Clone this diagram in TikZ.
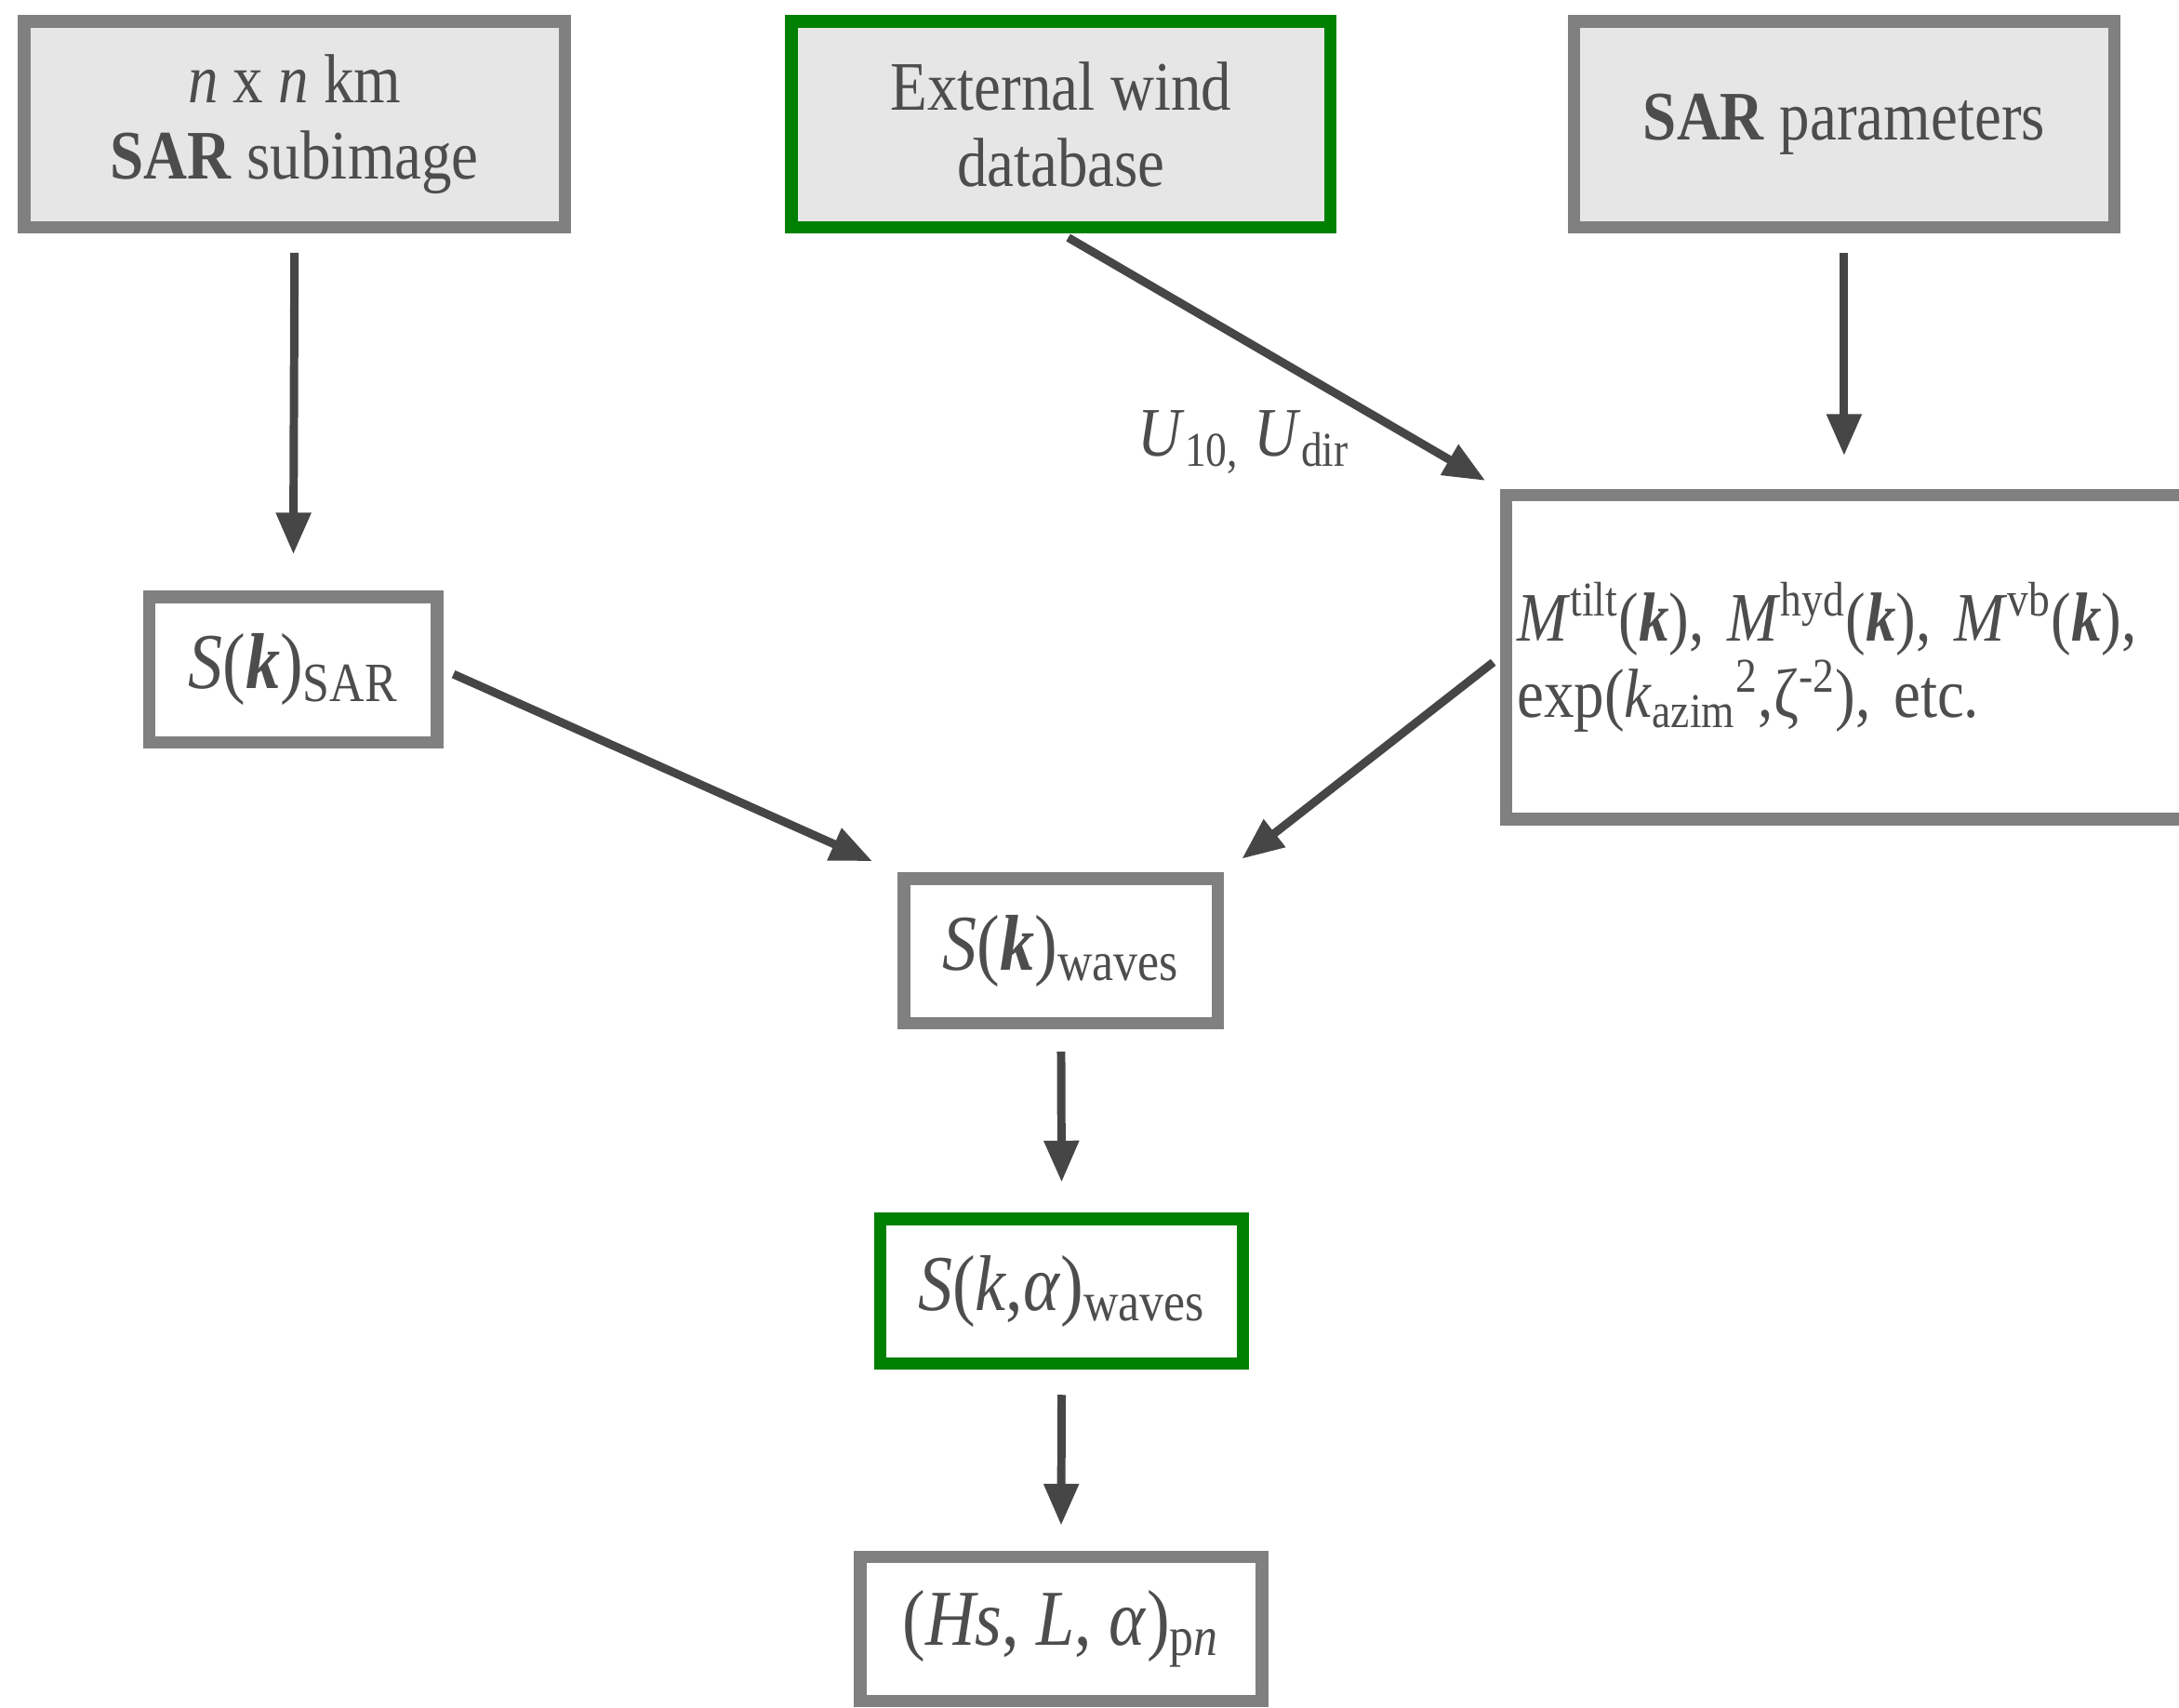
\documentclass[tikz,border=0pt]{standalone}
\usepackage{fontspec}
\setmainfont[FakeStretch=0.87]{Liberation Serif}
\usetikzlibrary{arrows.meta}
\definecolor{framegray}{RGB}{128,128,128}
\definecolor{shade}{RGB}{230,230,230}
\definecolor{dkgreen}{RGB}{0,128,0}
\definecolor{arrowgray}{RGB}{70,70,70}
\definecolor{inkgray}{RGB}{77,77,77}
\newcommand{\kb}{\textbf{\textit{k}}}

\tikzset{
 box/.style={draw=framegray, line width=4.5pt, inner sep=0pt, align=center, text=inkgray},
 inbox/.style={box, fill=shade},
 spec/.style={box, font=\fontsize{28.5}{31}\selectfont},
 flow/.style={arrowgray, line width=3pt, -{Triangle[length=15pt,width=12pt]}},
}

\begin{document}
\begin{tikzpicture}[x=.5pt,y=-.5pt, font=\fontsize{25}{27.5}\selectfont]
\useasboundingbox (0,0) rectangle (1568,1229);
% inputs
\node[inbox, minimum width=194.5pt, minimum height=74pt] (subimg) at (212,89.5) {\textit{n} x \textit{n} km\\\textbf{SAR} subimage};
\node[inbox, draw=dkgreen, minimum width=194pt, minimum height=74pt] (winddb) at (763.5,89.5) {External wind\\database};
\node[inbox, minimum width=194.5pt, minimum height=74pt] (sarpar) at (1327,89.5) {\textbf{SAR} parameters};
% spectra
\node[spec, minimum width=103.5pt, minimum height=52.5pt] (ssar) at (211,482) {\textit{S}(\kb)\textsubscript{SAR}};
\node[box, align=left, text width=275pt, inner xsep=4pt, minimum height=116.5pt] (mtf) at (1366.75,473) {\textit{M}\textsuperscript{tilt}(\kb), \textit{M}\textsuperscript{hyd}(\kb), \textit{M}\textsuperscript{vb}(\kb),\\exp(\textit{k}\textsubscript{azim}\textsuperscript{2},ζ\textsuperscript{-2}), etc.};
\node[spec, minimum width=113pt, minimum height=52pt] (swaves) at (763.5,684.5) {\textit{S}(\kb)\textsubscript{waves}};
\node[spec, draw=dkgreen, minimum width=130.5pt, minimum height=52pt] (skalpha) at (764,929.5) {\textit{S}(\textit{k},\textit{α})\textsubscript{waves}};
\node[spec, minimum width=144.5pt, minimum height=52pt] (params) at (763.5,1172.5) {(\textit{Hs}, \textit{L}, \textit{α})\textsubscript{p\textit{n}}};
\node[text=inkgray] (wind) at (895,318) {\textit{U}\textsubscript{10,} \textit{U}\textsubscript{dir}};

\draw[flow, shorten <=7pt, shorten >=13pt] (subimg.south) -- (ssar.north);
\draw[flow, shorten <=3pt, shorten >=6pt] (winddb.south) -- (mtf.north west);
\draw[flow, shorten <=7pt, shorten >=12pt] (sarpar.south) -- (sarpar.south |- mtf.north);
\draw[flow, shorten <=4pt, shorten >=10pt] (ssar.east) -- (swaves.north west);
\draw[flow, shorten <=3pt, shorten >=8pt] (mtf.west) -- (swaves.north east);
\draw[flow, shorten <=8pt, shorten >=11pt] (swaves.south) -- (skalpha.north);
\draw[flow, shorten <=9pt, shorten >=9pt] (skalpha.south) -- (params.north);
\end{tikzpicture}
\end{document}
